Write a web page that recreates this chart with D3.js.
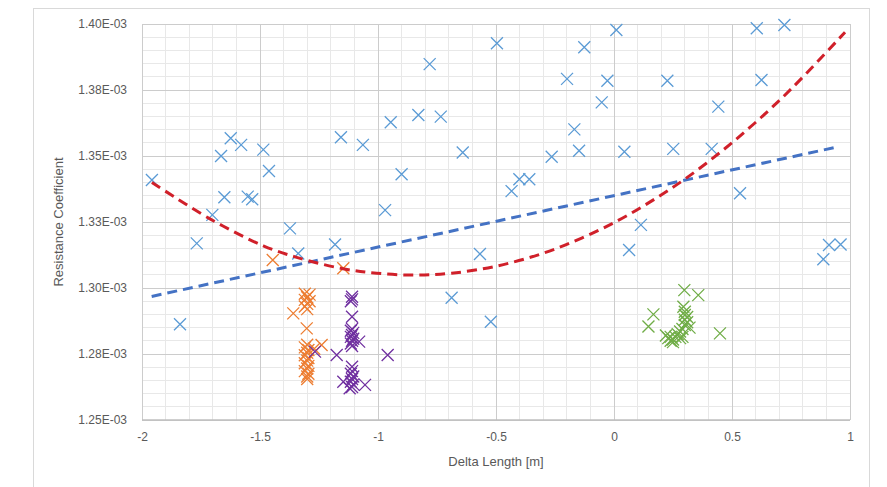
<!DOCTYPE html>
<html><head><meta charset="utf-8">
<script src="https://cdn.jsdelivr.net/npm/d3@7"></script>
<style>body{margin:0;background:#fff}svg{display:block}</style>
</head><body>
<svg id="c" width="887" height="487"></svg>
<script>
// values in units of 1e-3
const xTicks = [-2,-1.5,-1,-0.5,0,0.5,1];
const xTickLabels = ["-2","-1.5","-1","-0.5","0","0.5","1"];
const yTicks = [1.25,1.275,1.30,1.325,1.35,1.375,1.40];
const yTickLabels = ["1.25E-03","1.28E-03","1.30E-03","1.33E-03","1.35E-03","1.38E-03","1.40E-03"];

const blueX = [-1.958,-1.665,-1.624,-1.580,-1.486,-1.462,-1.651,-1.552,-1.533,-1.157,-1.064,-1.702,
  -1.839,-1.768,-1.373,-1.338,-1.182,
  -0.496,-0.781,-0.946,-0.829,-0.734,-0.900,-0.641,-0.970,-0.434,-0.401,-0.359,-0.264,-0.199,-0.168,-0.148,-0.126,-0.052,-0.028,0.010,
  0.605,0.722,0.226,0.625,0.442,0.044,0.251,0.414,0.534,
  -0.568,-0.688,-0.522,
  0.114,0.064,0.887,0.911,0.960];
const blueY = [1.3409,1.3500,1.3567,1.3542,1.3524,1.3443,1.3344,1.3346,1.3336,1.3571,1.3542,1.3277,
  1.2863,1.3169,1.3226,1.3131,1.3165,
  1.3927,1.3848,1.3628,1.3655,1.3649,1.3431,1.3513,1.3295,1.3367,1.3412,1.3412,1.3497,1.3792,1.3601,1.3520,1.3912,1.3703,1.3785,1.3977,
  1.3984,1.3996,1.3785,1.3788,1.3687,1.3516,1.3527,1.3527,1.3359,
  1.3129,1.2963,1.2872,
  1.3239,1.3144,1.3109,1.3163,1.3165];

const orangeX = [-1.446,-1.147,-1.359,-1.302,-1.239,-1.270,
  -1.31,-1.29,-1.30,-1.31,-1.29,-1.30,-1.31,-1.30,
  -1.30,-1.31,-1.295,-1.30,-1.31,-1.295,-1.30,-1.31,-1.295,-1.30,-1.31,-1.295,-1.30,-1.30];
const orangeY = [1.3106,1.3075,1.2904,1.2847,1.2784,1.2770,
  1.2978,1.2975,1.2965,1.2955,1.2950,1.2940,1.2930,1.2920,
  1.2785,1.2775,1.2765,1.2755,1.2745,1.2735,1.2725,1.2715,1.2705,1.2695,1.2685,1.2675,1.2665,1.2655];

const purpleX = [-1.11,-1.11,-1.115,-1.11,
  -1.11,-1.115,-1.105,-1.11,-1.115,-1.105,-1.11,-1.115,-1.11,
  -1.08,-1.267,-1.175,-0.959,-1.11,
  -1.11,-1.115,-1.105,-1.11,-1.115,-1.105,-1.11,-1.12,
  -1.055,-1.147];
const purpleY = [1.2967,1.2957,1.2950,1.2891,
  1.2845,1.2838,1.2830,1.2822,1.2815,1.2808,1.2800,1.2790,1.2780,
  1.2797,1.2759,1.2746,1.2746,1.2702,
  1.2685,1.2675,1.2665,1.2655,1.2645,1.2635,1.2625,1.2620,
  1.2633,1.2645];

const greenX = [0.298,0.357,0.167,0.146,0.449,0.294,0.30,
  0.22,0.23,0.24,0.25,0.26,0.27,0.28,0.29,0.30,0.30,0.31,0.29,0.25,0.24,0.28,0.32,0.31,0.30];
const greenY = [1.2992,1.2973,1.2900,1.2854,1.2828,1.2929,1.2898,
  1.2820,1.2810,1.2800,1.2805,1.2815,1.2825,1.2835,1.2845,1.2860,1.2880,1.2870,1.2815,1.2795,1.2815,1.2810,1.2850,1.2890,1.2910];

// trend lines
const linTrendX = [-1.959, 0.939];
const linTrendY = [1.2968, 1.3533];
const polyTrendX = [-1.958,-1.712,-1.486,-1.352,-1.154,-1.006,-0.843,-0.688,-0.497,-0.306,-0.137,0.018,0.160,0.301,0.456,0.597,0.753,0.979];
const polyTrendY = [1.3400,1.3262,1.3160,1.3118,1.3074,1.3056,1.3049,1.3056,1.3083,1.3130,1.3189,1.3256,1.3330,1.3413,1.3518,1.3625,1.3756,1.3969];

const svg = d3.select("#c");
const L = 142, R = 850, T = 24, B = 420;
const x = d3.scaleLinear().domain([-2,1]).range([L,R]);
const y = d3.scaleLinear().domain([1.25,1.40]).range([B,T]);
const font = "'Liberation Sans', Arial, sans-serif";
const txt = "#595959";

// outer chart border
svg.append("rect").attr("x",33.5).attr("y",8.5).attr("width",836).attr("height",490)
  .attr("fill","#fff").attr("stroke","#d9d9d9");

// minor grid
const g = svg.append("g");
g.selectAll(".mx").data(x.ticks(30)).join("line")
  .attr("x1",d=>x(d)).attr("x2",d=>x(d)).attr("y1",T).attr("y2",B)
  .attr("stroke","#e8e8e8").attr("stroke-width",1).attr("shape-rendering","crispEdges");
g.selectAll(".my").data(y.ticks(30)).join("line")
  .attr("y1",d=>y(d)).attr("y2",d=>y(d)).attr("x1",L).attr("x2",R)
  .attr("stroke","#e8e8e8").attr("stroke-width",1).attr("shape-rendering","crispEdges");
// major grid
g.selectAll(".Mx").data(xTicks).join("line")
  .attr("x1",d=>x(d)).attr("x2",d=>x(d)).attr("y1",T).attr("y2",B)
  .attr("stroke","#cccccc").attr("stroke-width",1).attr("shape-rendering","crispEdges");
g.selectAll(".My").data(yTicks).join("line")
  .attr("y1",d=>y(d)).attr("y2",d=>y(d)).attr("x1",L).attr("x2",R)
  .attr("stroke","#cccccc").attr("stroke-width",1).attr("shape-rendering","crispEdges");
// bottom axis line
g.append("line").attr("x1",L).attr("x2",R).attr("y1",B).attr("y2",B)
  .attr("stroke","#bfbfbf").attr("stroke-width",1.5);

// axes labels via d3 axes
const xAxis = d3.axisBottom(x).tickValues(xTicks).tickFormat((d,i)=>xTickLabels[i]).tickSize(0).tickPadding(12);
const xa = svg.append("g").attr("transform",`translate(0,${B})`).call(xAxis);
const yAxis = d3.axisLeft(y).tickValues(yTicks).tickFormat((d,i)=>yTickLabels[i]).tickSize(0).tickPadding(15);
const ya = svg.append("g").attr("transform",`translate(${L},0)`).call(yAxis);
[xa,ya].forEach(a=>{
  a.select(".domain").remove();
  a.selectAll("text").attr("fill",txt).style("font-family",font).style("font-size","12px");
});

svg.append("text").attr("x",(L+R)/2).attr("y",466).attr("text-anchor","middle")
  .attr("fill",txt).style("font-family",font).style("font-size","13px").text("Delta Length [m]");
svg.append("text").attr("transform",`translate(63,${(T+B)/2}) rotate(-90)`).attr("text-anchor","middle")
  .attr("fill",txt).style("font-family",font).style("font-size","13px").text("Resistance Coefficient");

// markers
const xPath = "M-6,-6L6,6M-6,6L6,-6";
function series(xs, ys, color){
  svg.append("g").selectAll("path").data(xs.map((d,i)=>[d,ys[i]])).join("path")
    .attr("d",xPath).attr("transform",d=>`translate(${x(d[0])},${y(d[1])})`)
    .attr("fill","none").attr("stroke",color).attr("stroke-width",1.3);
}
series(blueX, blueY, "#5b9bd5");
series(orangeX, orangeY, "#ed7d31");
series(purpleX, purpleY, "#7030a0");
series(greenX, greenY, "#70ad47");

// trend lines
const line = d3.line().x(d=>x(d[0])).y(d=>y(d[1]));
svg.append("path").datum(linTrendX.map((d,i)=>[d,linTrendY[i]])).attr("d",line)
  .attr("fill","none").attr("stroke","#4472c4").attr("stroke-width",3).attr("stroke-dasharray","10,6");
svg.append("path").datum(polyTrendX.map((d,i)=>[d,polyTrendY[i]])).attr("d",line.curve(d3.curveCatmullRom))
  .attr("fill","none").attr("stroke","#d0202a").attr("stroke-width",3).attr("stroke-dasharray","10,6");
</script>
</body></html>
